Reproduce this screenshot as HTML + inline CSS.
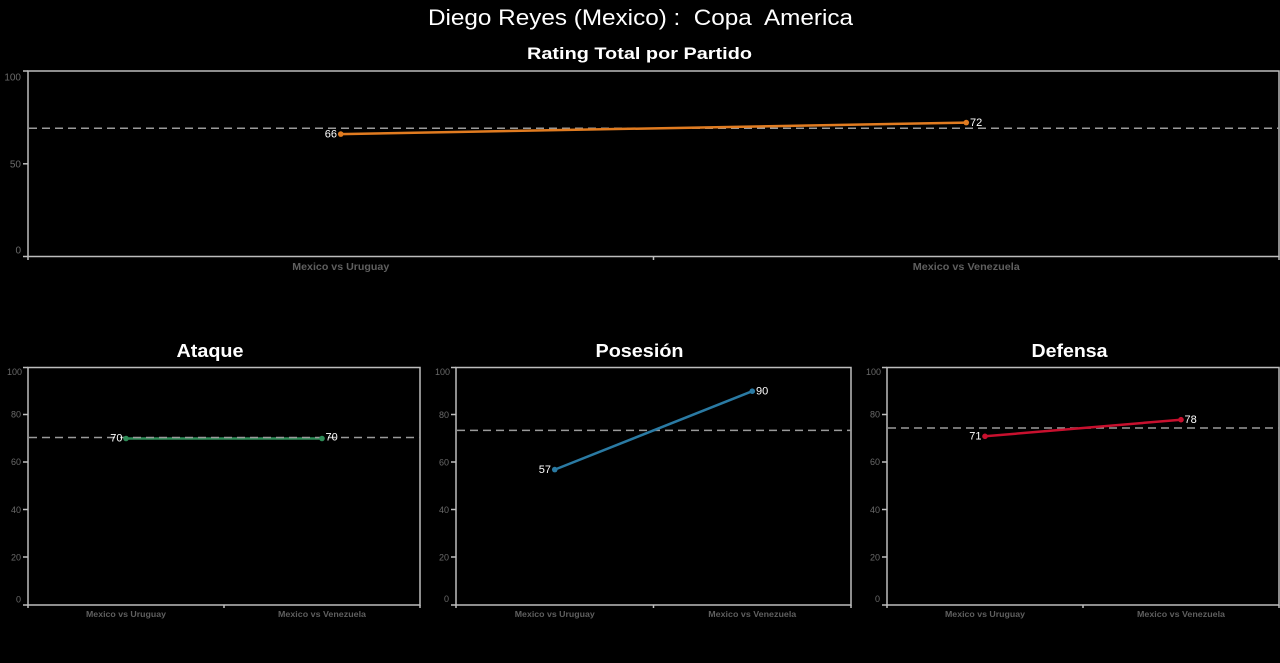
<!DOCTYPE html>
<html>
<head>
<meta charset="utf-8">
<style>
  html, body { margin: 0; padding: 0; background: #000; }
  body { width: 1280px; height: 663px; overflow: hidden; }
  svg { display: block; }
  text { font-family: "Liberation Sans", sans-serif; }
  .tick { fill: #6a6a6a; font-size: 9px; }
  .tickT { fill: #6a6a6a; font-size: 10px; }
  .cat { fill: #5f5f5f; font-size: 8.5px; font-weight: bold; }
  .catT { fill: #5f5f5f; font-size: 10px; font-weight: bold; }
  .val { fill: #ffffff; font-size: 11px; }
  .frame { fill: none; stroke: #bdbdbd; stroke-width: 1.5; }
  .ax { stroke: #bdbdbd; stroke-width: 1.5; }
  .dash { stroke: #9a9a9a; stroke-width: 1.5; stroke-dasharray: 8 5; }
</style>
</head>
<body>
<svg width="1280" height="663" viewBox="0 0 1280 663" xmlns="http://www.w3.org/2000/svg">
  <rect x="0" y="0" width="1280" height="663" fill="#000"/>

  <!-- Titles -->
  <text x="640.5" y="25" text-anchor="middle" fill="#ffffff" font-size="22" textLength="425" lengthAdjust="spacingAndGlyphs">Diego Reyes (Mexico) :&#160; Copa&#160; America</text>
  <text x="639.5" y="59" text-anchor="middle" fill="#ffffff" font-size="17" font-weight="bold" textLength="225" lengthAdjust="spacingAndGlyphs">Rating Total por Partido</text>

  <!-- ===== Top chart ===== -->
  <rect class="frame" x="28" y="71" width="1251" height="185.5"/>
  <line class="ax" x1="23" y1="71" x2="28" y2="71"/>
  <line class="ax" x1="23" y1="163.8" x2="28" y2="163.8"/>
  <line class="ax" x1="23" y1="256.5" x2="28" y2="256.5"/>
  <text class="tickT" x="21" y="80.5" text-anchor="end">100</text>
  <text class="tickT" x="21" y="167.5" text-anchor="end">50</text>
  <text class="tickT" x="21" y="253.5" text-anchor="end">0</text>
  <line class="ax" x1="28" y1="256.5" x2="28" y2="260"/>
  <line class="ax" x1="653.5" y1="256.5" x2="653.5" y2="260"/>
  <line class="ax" x1="1279" y1="256.5" x2="1279" y2="260"/>
  <text class="catT" x="340.75" y="270" text-anchor="middle" textLength="97" lengthAdjust="spacingAndGlyphs">Mexico vs Uruguay</text>
  <text class="catT" x="966.25" y="270" text-anchor="middle" textLength="107" lengthAdjust="spacingAndGlyphs">Mexico vs Venezuela</text>
  <line class="dash" x1="29" y1="128.3" x2="1279" y2="128.3"/>
  <line x1="340.75" y1="134.1" x2="966.25" y2="122.6" stroke="#e07b20" stroke-width="2.5"/>
  <circle cx="340.75" cy="134.1" r="2.8" fill="#e07b20"/>
  <circle cx="966.25" cy="122.6" r="2.8" fill="#e07b20"/>
  <text class="val" x="337" y="137.5" text-anchor="end">66</text>
  <text class="val" x="970" y="126" text-anchor="start">72</text>

  <!-- ===== Ataque ===== -->
  <text x="210" y="357" text-anchor="middle" fill="#ffffff" font-size="18" font-weight="bold" textLength="67" lengthAdjust="spacingAndGlyphs">Ataque</text>
  <rect class="frame" x="28" y="367.5" width="392" height="237.5"/>
  <g>
    <line class="ax" x1="23" y1="367.5" x2="28" y2="367.5"/>
    <line class="ax" x1="23" y1="414.5" x2="28" y2="414.5"/>
    <line class="ax" x1="23" y1="462" x2="28" y2="462"/>
    <line class="ax" x1="23" y1="509.5" x2="28" y2="509.5"/>
    <line class="ax" x1="23" y1="557" x2="28" y2="557"/>
    <line class="ax" x1="23" y1="605" x2="28" y2="605"/>
    <text class="tick" x="22" y="375" text-anchor="end">100</text>
    <text class="tick" x="21" y="417.5" text-anchor="end">80</text>
    <text class="tick" x="21" y="465" text-anchor="end">60</text>
    <text class="tick" x="21" y="513" text-anchor="end">40</text>
    <text class="tick" x="21" y="560.5" text-anchor="end">20</text>
    <text class="tick" x="21" y="602.5" text-anchor="end">0</text>
    <line class="ax" x1="28" y1="605" x2="28" y2="608"/>
    <line class="ax" x1="224" y1="605" x2="224" y2="608"/>
    <line class="ax" x1="420" y1="605" x2="420" y2="608"/>
    <text class="cat" x="126" y="617" text-anchor="middle" textLength="80" lengthAdjust="spacingAndGlyphs">Mexico vs Uruguay</text>
    <text class="cat" x="322" y="617" text-anchor="middle" textLength="88" lengthAdjust="spacingAndGlyphs">Mexico vs Venezuela</text>
  </g>
  <line x1="126" y1="438.5" x2="322" y2="438.5" stroke="#2e8b57" stroke-width="2.5"/>
  <line class="dash" x1="29" y1="437.5" x2="420" y2="437.5"/>
  <circle cx="126" cy="438.5" r="2.8" fill="#2e8b57"/>
  <circle cx="322" cy="438.5" r="2.8" fill="#2e8b57"/>
  <text class="val" x="122.5" y="441.5" text-anchor="end">70</text>
  <text class="val" x="325.5" y="440.5" text-anchor="start">70</text>

  <!-- ===== Posesión ===== -->
  <text x="639.5" y="357" text-anchor="middle" fill="#ffffff" font-size="18" font-weight="bold" textLength="88" lengthAdjust="spacingAndGlyphs">Posesión</text>
  <rect class="frame" x="456" y="367.5" width="395" height="237.5"/>
  <g>
    <line class="ax" x1="451" y1="367.5" x2="456" y2="367.5"/>
    <line class="ax" x1="451" y1="414.5" x2="456" y2="414.5"/>
    <line class="ax" x1="451" y1="462" x2="456" y2="462"/>
    <line class="ax" x1="451" y1="509.5" x2="456" y2="509.5"/>
    <line class="ax" x1="451" y1="557" x2="456" y2="557"/>
    <line class="ax" x1="451" y1="605" x2="456" y2="605"/>
    <text class="tick" x="450" y="375" text-anchor="end">100</text>
    <text class="tick" x="449" y="418" text-anchor="end">80</text>
    <text class="tick" x="449" y="465.5" text-anchor="end">60</text>
    <text class="tick" x="449" y="513" text-anchor="end">40</text>
    <text class="tick" x="449" y="560.5" text-anchor="end">20</text>
    <text class="tick" x="449" y="602" text-anchor="end">0</text>
    <line class="ax" x1="456" y1="605" x2="456" y2="608"/>
    <line class="ax" x1="653.5" y1="605" x2="653.5" y2="608"/>
    <line class="ax" x1="851" y1="605" x2="851" y2="608"/>
    <text class="cat" x="554.75" y="617" text-anchor="middle" textLength="80" lengthAdjust="spacingAndGlyphs">Mexico vs Uruguay</text>
    <text class="cat" x="752.25" y="617" text-anchor="middle" textLength="88" lengthAdjust="spacingAndGlyphs">Mexico vs Venezuela</text>
  </g>
  <line class="dash" x1="457" y1="430.4" x2="851" y2="430.4"/>
  <line x1="554.75" y1="469.6" x2="752.25" y2="391.2" stroke="#2a7aa3" stroke-width="2.5"/>
  <circle cx="554.75" cy="469.6" r="2.8" fill="#2a7aa3"/>
  <circle cx="752.25" cy="391.2" r="2.8" fill="#2a7aa3"/>
  <text class="val" x="551" y="473" text-anchor="end">57</text>
  <text class="val" x="756" y="394.5" text-anchor="start">90</text>

  <!-- ===== Defensa ===== -->
  <text x="1069.5" y="357" text-anchor="middle" fill="#ffffff" font-size="18" font-weight="bold" textLength="76" lengthAdjust="spacingAndGlyphs">Defensa</text>
  <rect class="frame" x="887" y="367.5" width="392" height="237.5"/>
  <g>
    <line class="ax" x1="882" y1="367.5" x2="887" y2="367.5"/>
    <line class="ax" x1="882" y1="414.5" x2="887" y2="414.5"/>
    <line class="ax" x1="882" y1="462" x2="887" y2="462"/>
    <line class="ax" x1="882" y1="509.5" x2="887" y2="509.5"/>
    <line class="ax" x1="882" y1="557" x2="887" y2="557"/>
    <line class="ax" x1="882" y1="605" x2="887" y2="605"/>
    <text class="tick" x="881" y="375" text-anchor="end">100</text>
    <text class="tick" x="880" y="417.5" text-anchor="end">80</text>
    <text class="tick" x="880" y="465" text-anchor="end">60</text>
    <text class="tick" x="880" y="513" text-anchor="end">40</text>
    <text class="tick" x="880" y="560.5" text-anchor="end">20</text>
    <text class="tick" x="880" y="602" text-anchor="end">0</text>
    <line class="ax" x1="887" y1="605" x2="887" y2="608"/>
    <line class="ax" x1="1083" y1="605" x2="1083" y2="608"/>
    <line class="ax" x1="1279" y1="605" x2="1279" y2="608"/>
    <text class="cat" x="985" y="617" text-anchor="middle" textLength="80" lengthAdjust="spacingAndGlyphs">Mexico vs Uruguay</text>
    <text class="cat" x="1181" y="617" text-anchor="middle" textLength="88" lengthAdjust="spacingAndGlyphs">Mexico vs Venezuela</text>
  </g>
  <line class="dash" x1="888" y1="428" x2="1279" y2="428"/>
  <line x1="985" y1="436.3" x2="1181" y2="419.7" stroke="#c8102e" stroke-width="2.5"/>
  <circle cx="985" cy="436.3" r="2.8" fill="#c8102e"/>
  <circle cx="1181" cy="419.7" r="2.8" fill="#c8102e"/>
  <text class="val" x="981.5" y="439.5" text-anchor="end">71</text>
  <text class="val" x="1184.5" y="423" text-anchor="start">78</text>
</svg>
</body>
</html>
